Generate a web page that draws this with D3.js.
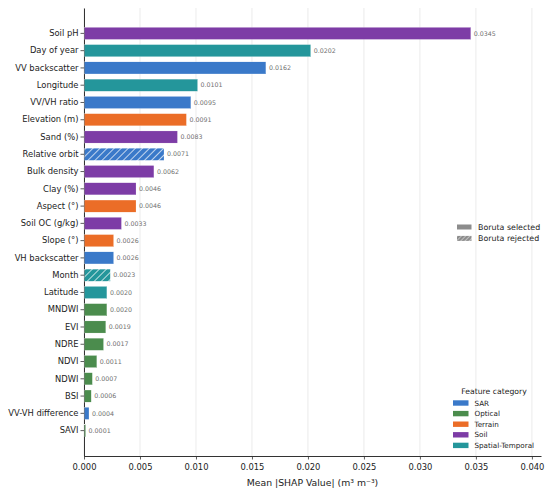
<!DOCTYPE html>
<html>
<head>
<meta charset="utf-8">
<script src="https://cdn.jsdelivr.net/npm/d3@7"></script>
<style>
  body { margin: 0; background: #fff; }
  svg { font-family: "DejaVu Sans", sans-serif; }
</style>
</head>
<body>
<div class="chart"></div>
<script>
// Data
const features = ["Soil pH", "Day of year", "VV backscatter", "Longitude", "VV/VH ratio",
  "Elevation (m)", "Sand (%)", "Relative orbit", "Bulk density", "Clay (%)", "Aspect (°)",
  "Soil OC (g/kg)", "Slope (°)", "VH backscatter", "Month", "Latitude", "MNDWI", "EVI",
  "NDRE", "NDVI", "NDWI", "BSI", "VV-VH difference", "SAVI"];
const shapValues = [0.0345, 0.0202, 0.0162, 0.0101, 0.0095, 0.0091, 0.0083, 0.0071, 0.0062,
  0.0046, 0.0046, 0.0033, 0.0026, 0.0026, 0.0023, 0.0020, 0.0020, 0.0019, 0.0017, 0.0011,
  0.0007, 0.0006, 0.0004, 0.0001];
const featureCategory = ["Soil", "Spatial-Temporal", "SAR", "Spatial-Temporal", "SAR",
  "Terrain", "Soil", "SAR", "Soil", "Soil", "Terrain", "Soil", "Terrain", "SAR",
  "Spatial-Temporal", "Spatial-Temporal", "Optical", "Optical", "Optical", "Optical",
  "Optical", "Optical", "SAR", "Optical"];
const borutaRejected = ["Relative orbit", "Month"];
const categories = ["SAR", "Optical", "Terrain", "Soil", "Spatial-Temporal"];
const categoryColors = ["#3a79c9", "#4b8c4d", "#eb6d27", "#7d3ca6", "#24969b"];
const xTicks = [0, 0.005, 0.010, 0.015, 0.020, 0.025, 0.030, 0.035, 0.040];

const data = features.map((f, i) => ({
  feature: f, value: shapValues[i], category: featureCategory[i],
  rejected: borutaRejected.includes(f)
}));

// SVG and margin
const W = 550, H = 492;
const margin = {top: 8, right: 9, bottom: 36, left: 84};
const width = W - margin.left - margin.right,
    height = H - margin.top - margin.bottom;

const svgRoot = d3.select(".chart").append("svg")
    .attr("width", W)
    .attr("height", H);

const defs = svgRoot.append("defs");
const color = d3.scaleOrdinal().domain(categories).range(categoryColors);

// hatch patterns, one per category colour
function hatchId(c) { return "hatch-" + c.replace(/[^a-z]/gi, ""); }
categories.forEach(c => {
  const p = defs.append("pattern")
      .attr("id", hatchId(c))
      .attr("patternUnits", "userSpaceOnUse")
      .attr("width", 5).attr("height", 5)
      .attr("patternTransform", "rotate(45)");
  p.append("rect").attr("width", 5).attr("height", 5).attr("fill", color(c));
  p.append("line").attr("x1", 0).attr("y1", 0).attr("x2", 0).attr("y2", 5)
      .attr("stroke", "#fff").attr("stroke-width", 1.4);
});
const gp = defs.append("pattern")
    .attr("id", "hatch-grey")
    .attr("patternUnits", "userSpaceOnUse")
    .attr("width", 3).attr("height", 3)
    .attr("patternTransform", "rotate(45)");
gp.append("rect").attr("width", 3).attr("height", 3).attr("fill", "#8c8c8c");
gp.append("line").attr("x1", 0).attr("y1", 0).attr("x2", 0).attr("y2", 3)
    .attr("stroke", "#fff").attr("stroke-width", 0.9);

const svg = svgRoot.append("g")
    .attr("transform", "translate(" + margin.left + "," + margin.top + ")");

// Scaling
const xScale = d3.scaleLinear()
    .domain([0, 0.0345 * 1.183])
    .range([0, width]);
const yScale = d3.scaleBand()
    .domain(features)
    .range([0, height])
    .paddingInner(0.3)
    .paddingOuter(1.12);

// Grid
svg.append("g").selectAll("line")
    .data(xTicks)
    .join("line")
    .attr("x1", d => xScale(d)).attr("x2", d => xScale(d))
    .attr("y1", 0).attr("y2", height)
    .attr("stroke", "#e6e6e6")
    .attr("stroke-width", 0.8);

// Axis (drawn before bars so tiny bars stay visible)
const xAxis = d3.axisBottom(xScale).tickValues(xTicks).tickFormat(d3.format(".3f"))
    .tickSize(3.5).tickSizeOuter(0);
const yAxis = d3.axisLeft(yScale).tickSize(3.5).tickSizeOuter(0);

const gx = svg.append("g")
    .attr("class", "axis x-axis")
    .attr("transform", "translate(0," + height + ")")
    .call(xAxis);
const gy = svg.append("g")
    .attr("class", "axis y-axis")
    .call(yAxis);

[gx, gy].forEach(g => {
  g.selectAll("text").attr("font-size", 8.4).attr("fill", "#222")
      .attr("font-family", "DejaVu Sans, sans-serif");
  g.selectAll("line").attr("stroke", "#333").attr("stroke-width", 0.8);
  g.select(".domain").attr("stroke", "#333").attr("stroke-width", 1);
});
gx.selectAll("text").attr("dy", "0.95em");
gy.selectAll("text").attr("x", -5.5);

// Bars
svg.selectAll(".bar")
    .data(data)
    .join("rect")
    .attr("class", "bar")
    .attr("x", xScale(0) + 0.5)
    .attr("y", d => yScale(d.feature))
    .attr("width", d => xScale(d.value) - xScale(0))
    .attr("height", yScale.bandwidth())
    .attr("fill", d => d.rejected ? "url(#" + hatchId(d.category) + ")" : color(d.category))
    .attr("stroke", "#fff")
    .attr("stroke-width", 0.2);

// Value labels
svg.selectAll(".val")
    .data(data)
    .join("text")
    .attr("class", "val")
    .attr("x", d => xScale(d.value) + 3.5)
    .attr("y", d => yScale(d.feature) + yScale.bandwidth() / 2)
    .attr("dy", "0.35em")
    .attr("font-size", 6.3)
    .attr("fill", "#707070")
    .text(d => d.value.toFixed(4));

svg.append("text")
    .attr("class", "axis-title")
    .attr("x", width / 2)
    .attr("y", height + 30)
    .attr("text-anchor", "middle")
    .attr("font-size", 9.3)
    .attr("fill", "#222")
    .text("Mean |SHAP Value| (m³ m⁻³)");

// Boruta legend
const boruta = [["Boruta selected", "#8c8c8c"], ["Boruta rejected", "url(#hatch-grey)"]];
const lb = svgRoot.append("g").attr("transform", "translate(457,227)");
boruta.forEach((b, i) => {
  lb.append("rect").attr("x", 0).attr("y", i * 11.4 - 2.5)
      .attr("width", 14.5).attr("height", 5).attr("fill", b[1]);
  lb.append("text").attr("x", 21).attr("y", i * 11.4).attr("dy", "0.35em")
      .attr("font-size", 7.9).attr("fill", "#222").text(b[0]);
});

// Category legend
const lc = svgRoot.append("g").attr("transform", "translate(453,403)");
lc.append("text").attr("x", 41).attr("y", -11.3).attr("dy", "0.35em")
    .attr("text-anchor", "middle").attr("font-size", 7.7).attr("fill", "#222")
    .text("Feature category");
categories.forEach((c, i) => {
  lc.append("rect").attr("x", 0).attr("y", i * 10.6 - 2.7)
      .attr("width", 15.5).attr("height", 5.4).attr("fill", color(c));
  lc.append("text").attr("x", 21.5).attr("y", i * 10.6).attr("dy", "0.35em")
      .attr("font-size", 7.2).attr("fill", "#222").text(c);
});
</script>
</body>
</html>
